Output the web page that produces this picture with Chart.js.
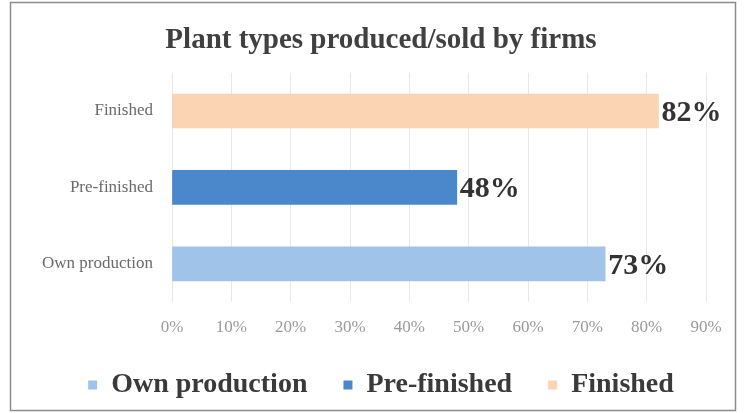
<!DOCTYPE html>
<html>
<head>
<meta charset="utf-8">
<script src="https://cdn.jsdelivr.net/npm/chart.js@4.4.0/dist/chart.umd.min.js"></script>
<style>
  html, body { margin: 0; padding: 0; background: #fff; }
  #wrap { width: 746px; height: 413px; position: relative; }
</style>
</head>
<body>
<div id="wrap"><canvas id="grafico"></canvas></div>
<script>
// categorie (dall'alto in basso) e valori in %
const categorie = ["Finished", "Pre-finished", "Own production"];
const serie = ["Own production", "Pre-finished", "Finished"];
const valoriOwn = [null, null, 73];
const valoriPre = [null, 48, null];
const valoriFinished = [82, null, null];
const tickPercentuali = [0, 10, 20, 30, 40, 50, 60, 70, 80, 90];

const colori = {
  "Own production": "#9fc3e9",
  "Pre-finished": "#4a87cb",
  "Finished": "#fbd4b3"
};

// cornice grigia attorno al grafico
const cornice = {
  id: "cornice",
  beforeDraw(chart) {
    const ctx = chart.ctx;
    ctx.save();
    ctx.fillStyle = "#fff";
    ctx.fillRect(0, 0, chart.width, chart.height);
    ctx.strokeStyle = "#8c8c8c";
    ctx.lineWidth = 1.5;
    ctx.strokeRect(10.5, 2.5, 725, 408);
    ctx.restore();
  }
};

// etichette percentuali a destra delle barre
const etichette = {
  id: "etichette",
  afterDatasetsDraw(chart) {
    const ctx = chart.ctx;
    ctx.save();
    ctx.font = "bold 30px 'Liberation Serif'";
    ctx.fillStyle = "#333";
    ctx.textAlign = "left";
    ctx.textBaseline = "middle";
    chart.data.datasets.forEach((ds, i) => {
      const meta = chart.getDatasetMeta(i);
      meta.data.forEach((bar, j) => {
        const v = ds.data[j];
        if (v === null || v === undefined) return;
        ctx.fillText(v + "%", bar.x + 3, bar.y + 2);
      });
    });
    ctx.restore();
  }
};

const ctx = document.getElementById("grafico").getContext("2d");
new Chart(ctx, {
  type: "bar",
  data: {
    labels: categorie,
    datasets: [
      { label: serie[0], data: valoriOwn, backgroundColor: colori[serie[0]] },
      { label: serie[1], data: valoriPre, backgroundColor: colori[serie[1]] },
      { label: serie[2], data: valoriFinished, backgroundColor: colori[serie[2]] }
    ]
  },
  options: {
    indexAxis: "y",
    responsive: true,
    maintainAspectRatio: false,
    animation: false,
    barThickness: 34,
    layout: { padding: { left: 42, right: 26, top: 5, bottom: 4 } },
    scales: {
      x: {
        min: 0,
        max: 90,
        afterBuildTicks: (scale) => {
          scale.ticks = tickPercentuali.map((v) => ({ value: v }));
        },
        // margine destro per le etichette delle barre, altezza fissa dell'asse
        afterFit: (scale) => {
          scale.paddingRight = 40;
          scale.height = 33;
        },
        ticks: {
          callback: (v) => v + "%",
          color: "#9a9a9a",
          padding: 15,
          font: { family: "'Liberation Serif'", size: 17 }
        },
        grid: { color: "#e8e8e8", drawTicks: false, tickLength: 0 },
        border: { display: false }
      },
      y: {
        stacked: true,
        afterFit: (scale) => { scale.width = 130; },
        ticks: {
          color: "#6a6a6a",
          padding: 19,
          font: { family: "'Liberation Serif'", size: 17 }
        },
        grid: { display: false, drawTicks: false },
        border: { display: false }
      }
    },
    plugins: {
      title: {
        display: true,
        text: "Plant types produced/sold by firms",
        color: "#404040",
        font: { family: "'Liberation Serif'", size: 29, weight: "bold" },
        padding: { top: 18, bottom: 15 }
      },
      legend: {
        position: "bottom",
        labels: {
          boxWidth: 9,
          boxHeight: 9,
          padding: 36,
          color: "#3a3a3a",
          font: { family: "'Liberation Serif'", size: 28, weight: "bold" }
        }
      },
      tooltip: { enabled: false }
    }
  },
  plugins: [cornice, etichette]
});
</script>
</body>
</html>
